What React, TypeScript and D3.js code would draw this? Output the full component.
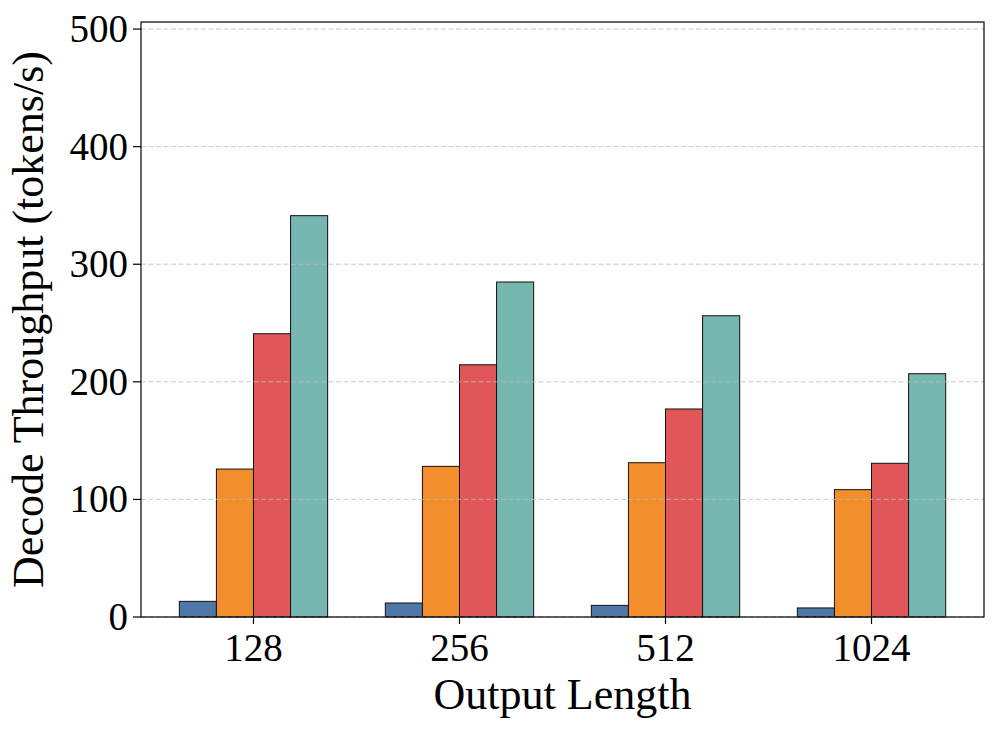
import React, { useEffect, useRef } from "react";
import * as d3 from "d3";

// output lengths on the x axis
const outputLengths = ["128", "256", "512", "1024"];

// decode throughput (tokens/s), one array per method
const seriesA = [13.3, 11.9, 9.9, 7.7];
const seriesB = [125.8, 128.1, 131.2, 108.3];
const seriesC = [240.9, 214.5, 176.9, 130.7];
const seriesD = [341.3, 284.9, 256.2, 206.9];

const seriesColors = ["#4e79a7", "#f28e2b", "#e15759", "#76b7b2"];
const yTicks = [0, 100, 200, 300, 400, 500];

const WIDTH = 997;
const HEIGHT = 732;
const FONT = "'Liberation Serif', 'Times New Roman', serif";

export default function App() {
  const svgRef = useRef<SVGSVGElement | null>(null);

  useEffect(() => {
    const svg = d3.select(svgRef.current);
    svg.selectAll("*").remove();

    const margin = { top: 22, right: 13, bottom: 115, left: 141 };
    const innerW = WIDTH - margin.left - margin.right;
    const innerH = HEIGHT - margin.top - margin.bottom;

    const series = [seriesA, seriesB, seriesC, seriesD];
    const barW = 0.18;
    const half = (series.length / 2) * barW;
    const pad = 0.05 * (outputLengths.length - 1 + 2 * half);

    const x = d3.scaleLinear()
      .domain([-half - pad, outputLengths.length - 1 + half + pad])
      .range([0, innerW]);

    const y = d3.scaleLinear()
      .domain([0, 506])
      .range([innerH, 0]);

    const g = svg.append("g")
      .attr("transform", `translate(${margin.left},${margin.top})`);

    // bars
    series.forEach((vals, si) => {
      g.selectAll(`.bar-${si}`)
        .data(vals)
        .join("rect")
        .attr("class", `bar-${si}`)
        .attr("x", (_, i) => x(i - half + si * barW))
        .attr("width", x(barW) - x(0))
        .attr("y", d => y(d))
        .attr("height", d => y(0) - y(d))
        .attr("fill", seriesColors[si])
        .attr("stroke", "#111")
        .attr("stroke-width", 1);
    });

    // dashed grid drawn on top of the bars
    g.selectAll(".grid")
      .data(yTicks)
      .join("line")
      .attr("class", "grid")
      .attr("x1", 0)
      .attr("x2", innerW)
      .attr("y1", d => y(d))
      .attr("y2", d => y(d))
      .attr("stroke", "#bdbdbd")
      .attr("stroke-opacity", 0.8)
      .attr("stroke-width", 1)
      .attr("stroke-dasharray", "5,2.5");

    // y ticks
    const yAxis = g.append("g");
    yAxis.selectAll("line")
      .data(yTicks)
      .join("line")
      .attr("x1", -8)
      .attr("x2", 0)
      .attr("y1", d => y(d))
      .attr("y2", d => y(d))
      .attr("stroke", "#000")
      .attr("stroke-width", 1.2);
    yAxis.selectAll("text")
      .data(yTicks)
      .join("text")
      .attr("x", -13)
      .attr("y", d => y(d) + 13)
      .attr("text-anchor", "end")
      .style("font-family", FONT)
      .style("font-size", "39px")
      .style("fill", "#000")
      .text(d => d);

    // x ticks
    const xAxis = g.append("g").attr("transform", `translate(0,${innerH})`);
    xAxis.selectAll("line")
      .data(outputLengths)
      .join("line")
      .attr("x1", (_, i) => x(i))
      .attr("x2", (_, i) => x(i))
      .attr("y1", 0)
      .attr("y2", 7)
      .attr("stroke", "#000")
      .attr("stroke-width", 1.2);
    xAxis.selectAll("text")
      .data(outputLengths)
      .join("text")
      .attr("x", (_, i) => x(i))
      .attr("y", 44)
      .attr("text-anchor", "middle")
      .style("font-family", FONT)
      .style("font-size", "39px")
      .style("fill", "#000")
      .text(d => d);

    // frame
    g.append("rect")
      .attr("x", 0)
      .attr("y", 0)
      .attr("width", innerW)
      .attr("height", innerH)
      .attr("fill", "none")
      .attr("stroke", "#000")
      .attr("stroke-width", 1.2);

    // axis labels
    svg.append("text")
      .attr("x", margin.left + innerW / 2)
      .attr("y", 709)
      .attr("text-anchor", "middle")
      .style("font-family", FONT)
      .style("font-size", "44px")
      .style("fill", "#000")
      .text("Output Length");

    svg.append("text")
      .attr("transform", `translate(43,${margin.top + innerH / 2}) rotate(-90)`)
      .attr("text-anchor", "middle")
      .style("font-family", FONT)
      .style("font-size", "44px")
      .style("fill", "#000")
      .text("Decode Throughput (tokens/s)");
  }, []);

  return (
    <svg
      ref={svgRef}
      width={WIDTH}
      height={HEIGHT}
      style={{ position: "absolute", left: 0, top: 0, background: "#fff" }}
    />
  );
}
